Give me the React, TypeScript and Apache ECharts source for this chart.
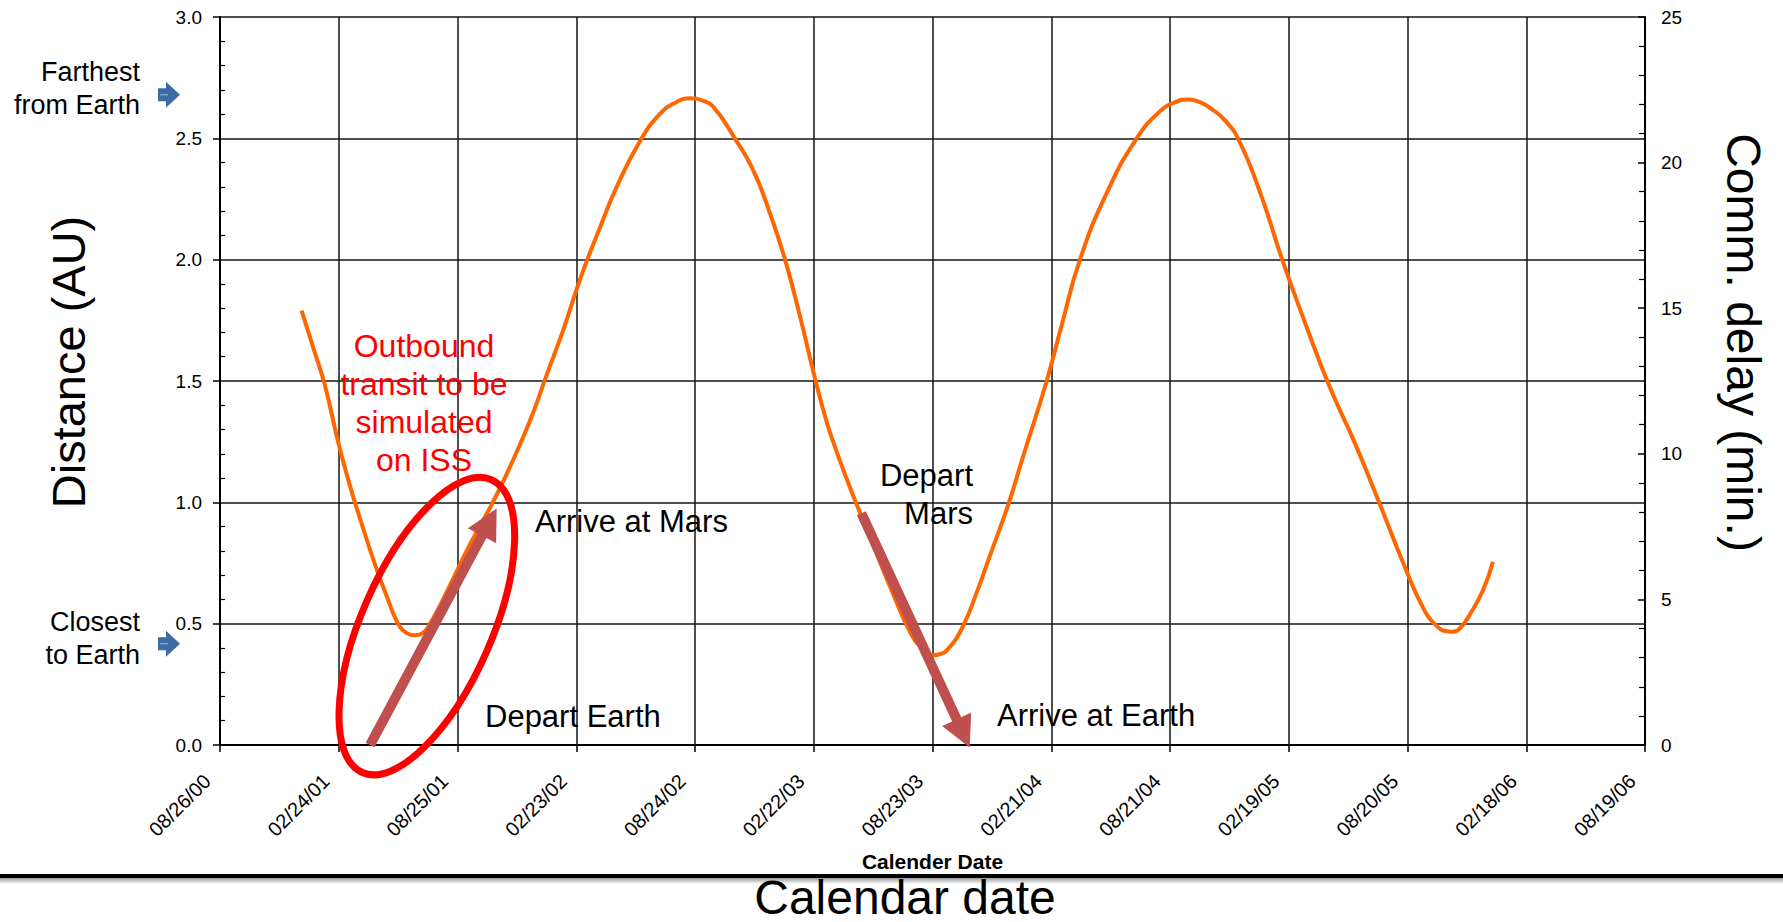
import React, { useEffect, useRef } from "react";
import * as echarts from "echarts";

// ---- Data (x = days since 08/26/00, the first axis tick) ----
const AXIS_START_UTC = Date.UTC(2000, 7, 26);
const DAY_MS = 86400000;
const xTickIntervalDays = 182;
const xMaxDays = 2184;

const curveDays = [
  125, 145, 161, 181, 199, 215, 238, 256, 273, 287, 298, 310, 322, 340, 360, 380, 400, 420, 440, 460,
  480, 500, 526, 552, 582, 608, 644, 674, 700, 720, 740, 756, 789, 817, 843, 866, 890, 912, 930, 945,
  960, 976, 1006, 1032, 1057, 1075, 1093, 1104, 1114, 1137, 1160, 1180, 1208, 1231, 1267, 1290, 1318,
  1360, 1405, 1440, 1465, 1484, 1505, 1520, 1540, 1562, 1595, 1628, 1663, 1700, 1740, 1778, 1815, 1845,
  1865, 1878, 1888, 1900, 1916, 1936, 1951,
];
const distanceAU = [
  1.79, 1.62, 1.48, 1.25, 1.07, 0.93, 0.74, 0.61, 0.5, 0.46, 0.452, 0.46, 0.5, 0.59, 0.7, 0.81, 0.91, 1.01, 1.12, 1.24,
  1.37, 1.52, 1.71, 1.92, 2.13, 2.3, 2.49, 2.6, 2.65, 2.665, 2.655, 2.63, 2.5, 2.37, 2.19, 2.0, 1.755, 1.51, 1.33, 1.21,
  1.1, 0.99, 0.79, 0.62, 0.47, 0.4, 0.37, 0.375, 0.39, 0.48, 0.63, 0.78, 0.99, 1.19, 1.5, 1.73, 2.0,
  2.28, 2.5, 2.61, 2.65, 2.66, 2.645, 2.62, 2.575, 2.49, 2.27, 2.0, 1.74, 1.48, 1.24, 0.99, 0.74, 0.56,
  0.49, 0.47, 0.467, 0.48, 0.54, 0.64, 0.755,
];

const distanceAxis = { min: 0, max: 3, interval: 0.5 };
const delayAxis = { min: 0, max: 25, interval: 5 };

// Annotation anchors in data space [days, AU]
const outboundArrow = { from: [230, 0.0], to: [424, 0.975] };
const returnArrow = { from: [983, 0.955], to: [1149, -0.01] };
const outboundEllipseCenter = [317, 0.49];

const FONT = 'Arial, "Liberation Sans", Helvetica, sans-serif';

function fmtDate(v: number): string {
  const d = new Date(AXIS_START_UTC + Math.round(v) * DAY_MS);
  const p = (n: number) => (n < 10 ? "0" + n : "" + n);
  return `${p(d.getUTCMonth() + 1)}/${p(d.getUTCDate())}/${p(d.getUTCFullYear() % 100)}`;
}

function arrowPoints(t: number[], p: number[], shaftHalf: number, headHalf: number, headLen: number) {
  const dx = p[0] - t[0];
  const dy = p[1] - t[1];
  const len = Math.sqrt(dx * dx + dy * dy);
  const ux = dx / len;
  const uy = dy / len;
  const nx = -uy;
  const ny = ux;
  const bx = p[0] - ux * headLen;
  const by = p[1] - uy * headLen;
  return [
    [t[0] + nx * shaftHalf, t[1] + ny * shaftHalf],
    [bx + nx * shaftHalf, by + ny * shaftHalf],
    [bx + nx * headHalf, by + ny * headHalf],
    [p[0], p[1]],
    [bx - nx * headHalf, by - ny * headHalf],
    [bx - nx * shaftHalf, by - ny * shaftHalf],
    [t[0] - nx * shaftHalf, t[1] - ny * shaftHalf],
  ];
}

function blueMarker(cy: number) {
  return {
    type: "group",
    z: 100,
    children: [
      {
        type: "polygon",
        shape: {
          points: [
            [158, cy - 6.5],
            [166, cy - 6.5],
            [166, cy - 13],
            [180, cy],
            [166, cy + 13],
            [166, cy + 6.5],
            [158, cy + 6.5],
          ],
        },
        style: { fill: "#3D6CA4" },
      },
      {
        type: "line",
        shape: { x1: 160, y1: cy, x2: 168, y2: cy },
        style: { stroke: "#7FA3CF", lineWidth: 1.5 },
      },
    ],
  };
}

export default function App() {
  const ref = useRef<HTMLDivElement>(null);

  useEffect(() => {
    if (!ref.current) return;
    const chart = echarts.init(ref.current, undefined, { renderer: "svg" });
    const gridColor = "#141414";

    chart.setOption({
      animation: false,
      backgroundColor: "#ffffff",
      grid: { left: 220, top: 17, width: 1425, height: 728 },
      xAxis: {
        type: "value",
        min: 0,
        max: xMaxDays,
        interval: xTickIntervalDays,
        name: "Calender Date",
        nameLocation: "middle",
        nameGap: 106,
        nameTextStyle: { fontFamily: FONT, fontSize: 21, fontWeight: "bold", color: "#000" },
        axisLine: { show: true, lineStyle: { color: "#000", width: 2 } },
        axisTick: { show: true, inside: false, length: 7, lineStyle: { color: "#000", width: 1.5 } },
        splitLine: { show: true, lineStyle: { color: gridColor, width: 1.5 } },
        axisLabel: {
          rotate: 45,
          margin: 20,
          padding: [0, 18, 0, 0],
          fontFamily: FONT,
          fontSize: 20,
          color: "#000",
          formatter: (v: number) => fmtDate(v),
        },
      },
      yAxis: [
        {
          type: "value",
          position: "left",
          min: distanceAxis.min,
          max: distanceAxis.max,
          interval: distanceAxis.interval,
          axisLine: { show: true, lineStyle: { color: "#000", width: 2 } },
          axisTick: { show: true, inside: false, length: 7, lineStyle: { color: "#000", width: 1.5 } },
          minorTick: { show: true, splitNumber: 5, length: -5, lineStyle: { color: "#000", width: 1.2 } },
          splitLine: { show: true, lineStyle: { color: gridColor, width: 1.5 } },
          axisLabel: {
            margin: 18,
            fontFamily: FONT,
            fontSize: 19,
            color: "#000",
            formatter: (v: number) => v.toFixed(1),
          },
        },
        {
          type: "value",
          position: "right",
          min: delayAxis.min,
          max: delayAxis.max,
          interval: delayAxis.interval,
          axisLine: { show: true, lineStyle: { color: "#000", width: 2 } },
          axisTick: { show: true, inside: true, length: 7, lineStyle: { color: "#000", width: 1.5 } },
          minorTick: { show: true, splitNumber: 5, length: 6, lineStyle: { color: "#000", width: 1.2 } },
          splitLine: { show: false },
          axisLabel: { margin: 16, fontFamily: FONT, fontSize: 19, color: "#000" },
        },
      ],
      series: [
        {
          type: "line",
          name: "Earth-Mars distance",
          yAxisIndex: 0,
          data: curveDays.map((d, i) => [d, distanceAU[i]]),
          smooth: 0.5,
          showSymbol: false,
          symbol: "none",
          lineStyle: { color: "#FF6600", width: 4 },
          z: 3,
        },
      ],
    });

    const px = (pt: number[]) => chart.convertToPixel({ xAxisIndex: 0, yAxisIndex: 0 }, pt) as number[];
    const a1 = arrowPoints(px(outboundArrow.from), px(outboundArrow.to), 5, 16, 31);
    const a2 = arrowPoints(px(returnArrow.from), px(returnArrow.to), 5, 16, 31);
    const ec = px(outboundEllipseCenter);

    const txt = (text: string, x: number, y: number, extra: any = {}) => ({
      type: "text",
      x,
      y,
      z: 110,
      style: {
        text,
        fontFamily: FONT,
        fontSize: 31,
        fill: "#000",
        align: "left",
        verticalAlign: "middle",
        ...extra,
      },
    });

    chart.setOption({
      graphic: [
        // red arrows
        { type: "polygon", z: 100, shape: { points: a1 }, style: { fill: "#C0504D" } },
        { type: "polygon", z: 100, shape: { points: a2 }, style: { fill: "#C0504D" } },
        // red ellipse
        {
          type: "ellipse",
          z: 101,
          x: ec[0],
          y: ec[1],
          rotation: (66.2 * Math.PI) / 180,
          shape: { cx: 0, cy: 0, rx: 160, ry: 65 },
          style: { fill: "none", stroke: "#FF0000", lineWidth: 7 },
        },
        // annotation texts
        txt("Outbound\ntransit to be\nsimulated\non ISS", 424, 327, {
          fill: "#FF0000",
          align: "center",
          verticalAlign: "top",
          lineHeight: 38,
          fontSize: 32,
        }),
        txt("Arrive at Mars", 535, 521),
        txt("Depart Earth", 485, 716),
        txt("Arrive at Earth", 997, 715),
        txt("Depart\nMars", 973, 456, { align: "right", verticalAlign: "top", lineHeight: 38 }),
        txt("Farthest\nfrom Earth", 140, 55, { align: "right", verticalAlign: "top", lineHeight: 33, fontSize: 27 }),
        txt("Closest\nto Earth", 140, 605, { align: "right", verticalAlign: "top", lineHeight: 33, fontSize: 27 }),
        blueMarker(94.7),
        blueMarker(643.7),
        // axis titles
        {
          type: "text",
          x: 68.5,
          y: 362,
          rotation: Math.PI / 2,
          style: { text: "Distance (AU)", fontFamily: FONT, fontSize: 47, fill: "#000", align: "center", verticalAlign: "middle" },
        },
        {
          type: "text",
          x: 1743,
          y: 342.5,
          rotation: -Math.PI / 2,
          style: { text: "Comm. delay (min.)", fontFamily: FONT, fontSize: 48, fill: "#000", align: "center", verticalAlign: "middle" },
        },
        // slide divider and footer title
        {
          type: "rect",
          shape: { x: 0, y: 878, width: 1783, height: 6 },
          style: {
            fill: new echarts.graphic.LinearGradient(0, 0, 0, 1, [
              { offset: 0, color: "#9a9a9a" },
              { offset: 1, color: "#ffffff" },
            ]),
          },
        },
        { type: "rect", shape: { x: 0, y: 874, width: 1783, height: 4 }, style: { fill: "#000" } },
        {
          type: "text",
          x: 905,
          y: 897,
          style: { text: "Calendar date", fontFamily: FONT, fontSize: 48, fill: "#000", align: "center", verticalAlign: "middle" },
        },
      ],
    });

    return () => chart.dispose();
  }, []);

  return (
    <div
      ref={ref}
      style={{ position: "fixed", left: 0, top: 0, width: "1783px", height: "922px", background: "#fff" }}
    />
  );
}
